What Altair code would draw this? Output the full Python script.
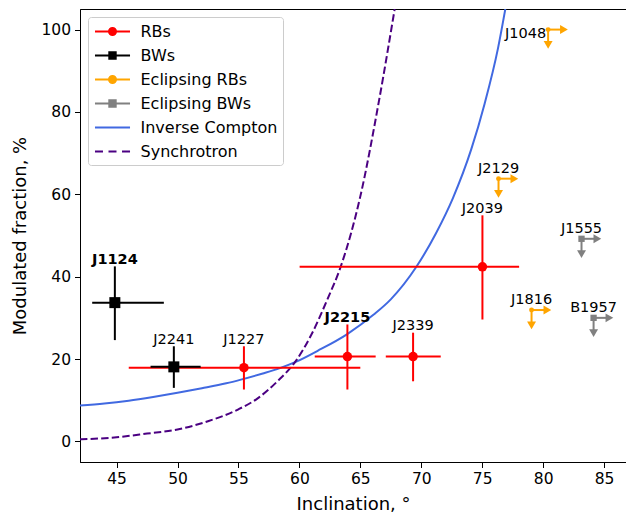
import altair as alt
import pandas as pd

# ---- Redbacks (RBs) with measured inclination / modulation ranges ----
rb_name = ["J1227", "J2215", "J2339", "J2039"]
rb_incl = [55.45, 63.94, 69.33, 75.02]
rb_incl_lo = [46.0, 61.26, 67.09, 60.02]
rb_incl_hi = [65.0, 66.26, 71.60, 78.03]
rb_frac = [17.9, 20.6, 20.6, 42.4]
rb_frac_lo = [12.6, 12.6, 14.6, 29.6]
rb_frac_hi = [23.1, 28.4, 26.4, 54.9]

# ---- Black widows (BWs) ----
bw_name = ["J1124", "J2241"]
bw_incl = [44.86, 49.70]
bw_incl_lo = [43.0, 47.79]
bw_incl_hi = [48.88, 51.90]
bw_frac = [33.7, 18.1]
bw_frac_lo = [24.6, 13.0]
bw_frac_hi = [42.5, 23.1]

# ---- Eclipsing systems: inclination lower limits, modulation upper limits ----
erb_name = ["J1048", "J2129", "J1816"]
erb_incl = [80.41, 76.34, 79.05]
erb_frac = [100.0, 63.8, 31.9]

ebw_name = ["J1555", "B1957"]
ebw_incl = [83.15, 84.14]
ebw_frac = [49.2, 30.0]

# length of the limit arrows (degrees, percent)
lim_dx = 1.3
lim_dy = 3.7

bold_names = ["J1124", "J2215"]
left_names = ["J1048"]

# ---- Model curves ----
ic_incl = [42.0, 44.0, 46.0, 48.0, 50.0, 52.0, 54.0, 55.2, 57.0, 58.4, 59.7,
           61.5, 63.9, 66.1, 67.5, 69.6, 71.2, 72.6, 74.1, 75.2, 76.3, 76.9]
ic_frac = [8.7, 9.2, 9.9, 10.8, 11.8, 12.9, 14.1, 15.0, 16.5, 17.8, 19.3,
           22.0, 26.0, 30.8, 34.5, 42.4, 50.5, 59.1, 70.9, 82.0, 95.5, 105.0]

sy_incl = [42.0, 45.0, 47.5, 50.0, 52.5, 55.0, 56.55, 58.2, 59.7, 61.0,
           62.3, 63.4, 65.0, 66.55, 67.82]
sy_frac = [0.5, 1.0, 1.9, 2.9, 4.9, 7.8, 10.4, 14.6, 19.5, 26.0,
           34.5, 42.5, 59.5, 83.0, 105.0]

legend_items = ["RBs", "BWs", "Eclipsing RBs", "Eclipsing BWs",
                "Inverse Compton", "Synchrotron"]

RED, BLACK, ORANGE, GREY = "#ff0000", "#000000", "#ffa500", "#808080"
BLUE, INDIGO = "#4169e1", "#4b0082"
FONT = "DejaVu Sans"

XSCALE = alt.Scale(domain=[42, 86.8], nice=False, zero=False)
YSCALE = alt.Scale(domain=[-5, 105], nice=False, zero=False)
XTITLE = "Inclination, °"
YTITLE = "Modulated fraction, %"


def xenc(field):
    return alt.X(f"{field}:Q", scale=XSCALE, title=XTITLE,
                 axis=alt.Axis(values=list(range(45, 90, 5))))


def yenc(field):
    return alt.Y(f"{field}:Q", scale=YSCALE, title=YTITLE,
                 axis=alt.Axis(values=list(range(0, 101, 20))))


rb = pd.DataFrame({"name": rb_name, "x": rb_incl, "xlo": rb_incl_lo, "xhi": rb_incl_hi,
                   "y": rb_frac, "ylo": rb_frac_lo, "yhi": rb_frac_hi})
bw = pd.DataFrame({"name": bw_name, "x": bw_incl, "xlo": bw_incl_lo, "xhi": bw_incl_hi,
                   "y": bw_frac, "ylo": bw_frac_lo, "yhi": bw_frac_hi})
erb = pd.DataFrame({"name": erb_name, "x": erb_incl, "y": erb_frac})
ebw = pd.DataFrame({"name": ebw_name, "x": ebw_incl, "y": ebw_frac})
for d in (erb, ebw):
    d["xtip"] = d["x"] + lim_dx
    d["ytip"] = d["y"] - lim_dy

ic = pd.DataFrame({"x": ic_incl, "y": ic_frac})
sy = pd.DataFrame({"x": sy_incl, "y": sy_frac})

# model curves
ic_line = alt.Chart(ic).mark_line(color=BLUE, strokeWidth=2, interpolate="monotone",
                                  clip=True).encode(x=xenc("x"), y=yenc("y"))
sy_line = alt.Chart(sy).mark_line(color=INDIGO, strokeWidth=2, strokeDash=[7.4, 3.2],
                                  interpolate="monotone", clip=True).encode(x=xenc("x"), y=yenc("y"))


def error_layers(df, color, shape, size):
    h = alt.Chart(df).mark_rule(color=color, strokeWidth=2).encode(
        x=xenc("xlo"), x2="xhi", y=yenc("y"))
    v = alt.Chart(df).mark_rule(color=color, strokeWidth=2).encode(
        x=xenc("x"), y=yenc("ylo"), y2="yhi")
    p = alt.Chart(df).mark_point(shape=shape, filled=True, size=size, color=color,
                                 opacity=1).encode(x=xenc("x"), y=yenc("y"))
    return [h, v, p]


def limit_layers(df, color, shape, size):
    hx = alt.Chart(df).mark_rule(color=color, strokeWidth=2).encode(
        x=xenc("x"), x2="xtip", y=yenc("y"))
    vy = alt.Chart(df).mark_rule(color=color, strokeWidth=2).encode(
        x=xenc("x"), y=yenc("y"), y2="ytip")
    ar = alt.Chart(df).mark_point(shape="triangle-right", filled=True, size=80, color=color,
                                  opacity=1).encode(x=xenc("xtip"), y=yenc("y"))
    ad = alt.Chart(df).mark_point(shape="triangle-down", filled=True, size=80, color=color,
                                  opacity=1).encode(x=xenc("x"), y=yenc("ytip"))
    p = alt.Chart(df).mark_point(shape=shape, filled=True, size=size, color=color,
                                 opacity=1).encode(x=xenc("x"), y=yenc("y"))
    return [hx, vy, ar, ad, p]


# labels above the error bars
err_lab = pd.concat([rb, bw])[["name", "x", "yhi"]]
err_lab["bold"] = err_lab["name"].isin(bold_names)
lab_norm = alt.Chart(err_lab[~err_lab["bold"]]).mark_text(
    font=FONT, fontSize=14.5, align="center", baseline="alphabetic", dy=-2.5, color="black"
).encode(x=xenc("x"), y=yenc("yhi"), text="name:N")
lab_bold = alt.Chart(err_lab[err_lab["bold"]]).mark_text(
    font=FONT, fontSize=14.5, fontWeight="bold", align="center", baseline="alphabetic",
    dy=-2.5, color="black"
).encode(x=xenc("x"), y=yenc("yhi"), text="name:N")

lim_lab = pd.concat([erb, ebw])[["name", "x", "y"]]
lim_lab["left"] = lim_lab["name"].isin(left_names)
lab_lim = alt.Chart(lim_lab[~lim_lab["left"]]).mark_text(
    font=FONT, fontSize=14.5, align="center", baseline="alphabetic", dy=-5.8, color="black"
).encode(x=xenc("x"), y=yenc("y"), text="name:N")
lab_left = alt.Chart(lim_lab[lim_lab["left"]]).mark_text(
    font=FONT, fontSize=14.5, align="right", baseline="alphabetic", dx=-2, dy=8, color="black"
).encode(x=xenc("x"), y=yenc("y"), text="name:N")

# legend entries: handle glyphs as line + marker paths (8 px per path unit)
legend_colors = [RED, BLACK, ORANGE, GREY, BLUE, INDIGO]
circ = "M0.44,0A0.44,0.44,0,1,1,-0.44,0A0.44,0.44,0,1,1,0.44,0Z"
sq = "M-0.4,-0.4H0.4V0.4H-0.4Z"
line = "M-2.19,0H2.19"
legend_paths = [line + circ, line + sq, line + circ, line + sq, line,
                "M-2.19,0H-1.19M-0.5,0H0.5M1.19,0H2.19"]
leg_df = pd.DataFrame({"series": legend_items, "x": [None] * 6, "y": [None] * 6})
leg = alt.Legend(title=None)
legend_layer = alt.Chart(leg_df).mark_point(filled=True, opacity=1, clip=True).encode(
    x=xenc("x"), y=yenc("y"),
    fill=alt.Fill("series:N", scale=alt.Scale(domain=legend_items, range=legend_colors), legend=leg),
    stroke=alt.Stroke("series:N", scale=alt.Scale(domain=legend_items, range=legend_colors), legend=leg),
    shape=alt.Shape("series:N", scale=alt.Scale(domain=legend_items, range=legend_paths), legend=leg),
)

layers = [ic_line, sy_line]
layers += error_layers(rb, RED, "circle", 90)
layers += error_layers(bw, BLACK, "square", 121)
layers += limit_layers(erb, ORANGE, "circle", 24)
layers += limit_layers(ebw, GREY, "square", 40)
layers += [lab_norm, lab_bold, lab_lim, lab_left, legend_layer]

chart = alt.layer(*layers).properties(
    width=546, height=453,
    padding={"left": 80, "top": 9, "right": 0, "bottom": 52},
    autosize=alt.AutoSizeParams(type="none"),
    background="white",
).configure_axis(
    labelFont=FONT, labelFontSize=15.5, labelColor="black",
    titleFont=FONT, titleFontSize=18, titleFontWeight="normal", titleColor="black",
    tickColor="black", domainColor="black", tickSize=5.5, tickWidth=1, domainWidth=1,
    grid=False, labelPadding=4,
).configure_axisY(titlePadding=11).configure_axisX(titlePadding=8).configure_view(
    stroke="black", strokeWidth=1
).configure_legend(
    orient="top-left", offset=8, padding=5.5, strokeColor="#cccccc", fillColor="white",
    cornerRadius=3, labelFont=FONT, labelFontSize=16, labelColor="black",
    symbolSize=256, symbolStrokeWidth=2, symbolOffset=10, rowPadding=7, labelOffset=19,
)

chart.save("out.html", embed_options={"renderer": "svg", "actions": False})
